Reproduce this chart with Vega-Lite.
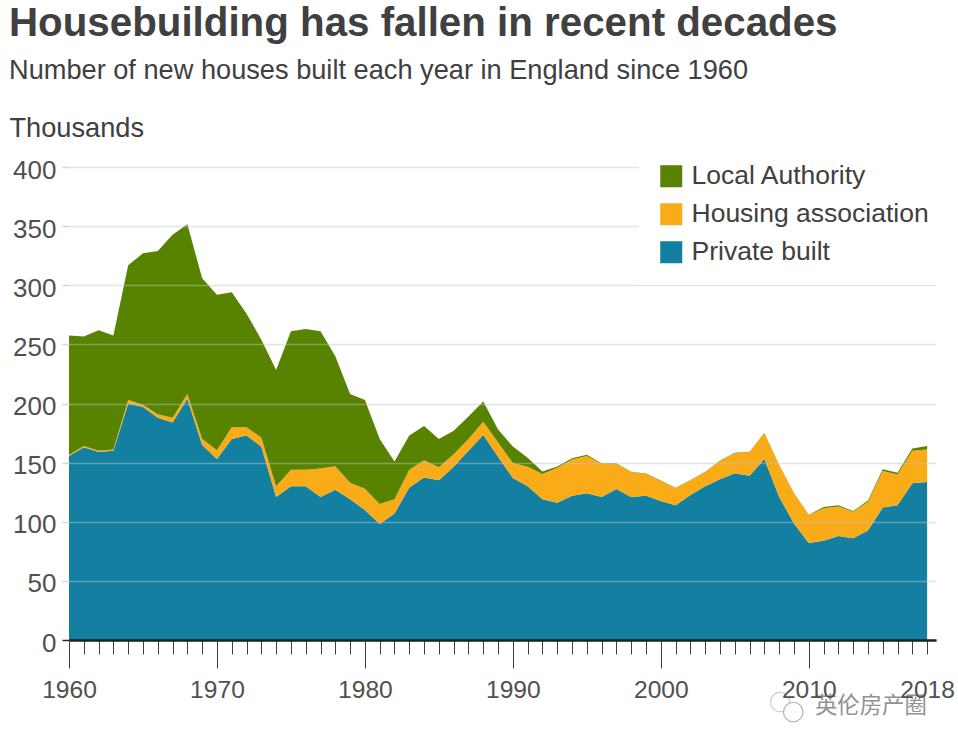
{"$schema":"https://vega.github.io/schema/vega-lite/v6.json","width":867,"height":473,"autosize":{"type":"none"},"padding":{"left":69,"top":167,"right":22,"bottom":108},"background":"white","title":{"text":"Housebuilding has fallen in recent decades","subtitle":"Number of new houses built each year in England since 1960","anchor":"start","frame":"group","dx":-60,"offset":30,"font":"Liberation Sans","fontSize":40.3,"fontWeight":"bold","color":"#404040","subtitleFont":"Liberation Sans","subtitleFontSize":27.2,"subtitleColor":"#404040","subtitlePadding":14},"config":{"view":{"stroke":null},"font":"Liberation Sans"},"layer":[{"data":{"name":"houses"},"mark":{"type":"area","interpolate":"linear","clip":true},"encoding":{"x":{"field":"year","type":"quantitative","scale":{"domain":[1960,2018.6],"nice":false,"zero":false},"axis":{"orient":"bottom","values":[1960,1961,1962,1963,1964,1965,1966,1967,1968,1969,1970,1971,1972,1973,1974,1975,1976,1977,1978,1979,1980,1981,1982,1983,1984,1985,1986,1987,1988,1989,1990,1991,1992,1993,1994,1995,1996,1997,1998,1999,2000,2001,2002,2003,2004,2005,2006,2007,2008,2009,2010,2011,2012,2013,2014,2015,2016,2017,2018],"labels":false,"title":null,"grid":false,"tickSize":14,"tickColor":"#404040","tickWidth":1,"domainColor":"#222222","domainWidth":2.5,"zindex":2}},"y":{"field":"thousands","type":"quantitative","stack":"zero","scale":{"domain":[0,400],"nice":false},"axis":{"values":[0,50,100,150,200,250,300,350,400],"title":"Thousands","titleAngle":0,"titleAlign":"left","titleBaseline":"alphabetic","titleX":-60,"titleY":-31,"titleFont":"Liberation Sans","titleFontSize":27.2,"titleFontWeight":"normal","titleColor":"#404040","labelFont":"Liberation Sans","labelFontSize":26,"labelColor":"#505050","labelPadding":6,"labelOffset":3,"tickSize":7,"tickColor":{"condition":{"test":"datum.value===0","value":"#222222"},"value":"#d6d6d6"},"tickWidth":1.5,"domain":false,"grid":true,"gridColor":{"condition":{"test":"datum.value===0","value":"#222222"},"value":"#bcc4cc"},"gridOpacity":0.45,"gridWidth":1.5,"zindex":1}},"color":{"field":"type","type":"nominal","scale":{"domain":["Local Authority","Housing association","Private built"],"range":["#588300","#FAAB18","#1380A1"]},"legend":{"orient":"none","legendX":570,"legendY":-23,"title":null,"symbolType":"square","symbolSize":484,"symbolStrokeWidth":0,"symbolOpacity":1,"labelFont":"Liberation Sans","labelFontSize":26.5,"labelColor":"#404040","labelOffset":7,"labelLimit":400,"rowPadding":11,"fillColor":"white","padding":19,"zindex":1}},"order":{"field":"rank","type":"ordinal"}}},{"data":{"values":[{"year":2014.2,"thousands":-56,"label":"英伦房产圈"}]},"mark":{"type":"text","font":"Noto Sans CJK SC","fontSize":22.4,"color":"#808080","opacity":0.85,"clip":false,"align":"center","baseline":"middle"},"encoding":{"x":{"field":"year","type":"quantitative","axis":{"orient":"bottom","values":[1960,1970,1980,1990,2000,2010,2018],"title":null,"grid":false,"domain":false,"tickSize":28,"tickWidth":1,"tickColor":"#404040","tickOpacity":{"condition":{"test":"datum.value===2018","value":0},"value":1},"labelFont":"Liberation Sans","labelFontSize":24.6,"labelColor":"#505050","labelPadding":10,"labelOverlap":false,"labelFlush":false,"labelBound":false,"format":"d","zindex":2}},"y":{"field":"thousands","type":"quantitative"},"text":{"field":"label","type":"nominal"}}},{"data":{"values":[{"year":2008.07,"thousands":-52.4}]},"mark":{"type":"point","shape":"circle","filled":false,"size":380,"stroke":"#b8b8b8","strokeWidth":1.2,"clip":false},"encoding":{"x":{"field":"year","type":"quantitative","axis":null},"y":{"field":"thousands","type":"quantitative"}}},{"data":{"values":[{"year":2008.95,"thousands":-60.9}]},"mark":{"type":"point","shape":"circle","filled":true,"size":380,"fill":"white","fillOpacity":0.8,"stroke":"#b0b0b0","strokeWidth":1.2,"clip":false},"encoding":{"x":{"field":"year","type":"quantitative","axis":null},"y":{"field":"thousands","type":"quantitative"}}}],"resolve":{"axis":{"x":"independent"}},"datasets":{"houses":[
{"year":1960,"type":"Private built","rank":1,"thousands":155.5},{"year":1960,"type":"Housing association","rank":2,"thousands":1},{"year":1960,"type":"Local Authority","rank":3,"thousands":101},
{"year":1961,"type":"Private built","rank":1,"thousands":163},{"year":1961,"type":"Housing association","rank":2,"thousands":1},{"year":1961,"type":"Local Authority","rank":3,"thousands":92.7},
{"year":1962,"type":"Private built","rank":1,"thousands":159},{"year":1962,"type":"Housing association","rank":2,"thousands":1},{"year":1962,"type":"Local Authority","rank":3,"thousands":102},
{"year":1963,"type":"Private built","rank":1,"thousands":160},{"year":1963,"type":"Housing association","rank":2,"thousands":1},{"year":1963,"type":"Local Authority","rank":3,"thousands":96.5},
{"year":1964,"type":"Private built","rank":1,"thousands":200},{"year":1964,"type":"Housing association","rank":2,"thousands":3},{"year":1964,"type":"Local Authority","rank":3,"thousands":114},
{"year":1965,"type":"Private built","rank":1,"thousands":197},{"year":1965,"type":"Housing association","rank":2,"thousands":2},{"year":1965,"type":"Local Authority","rank":3,"thousands":128},
{"year":1966,"type":"Private built","rank":1,"thousands":188},{"year":1966,"type":"Housing association","rank":2,"thousands":3},{"year":1966,"type":"Local Authority","rank":3,"thousands":138},
{"year":1967,"type":"Private built","rank":1,"thousands":184},{"year":1967,"type":"Housing association","rank":2,"thousands":4},{"year":1967,"type":"Local Authority","rank":3,"thousands":154.7},
{"year":1968,"type":"Private built","rank":1,"thousands":204},{"year":1968,"type":"Housing association","rank":2,"thousands":4},{"year":1968,"type":"Local Authority","rank":3,"thousands":143.5},
{"year":1969,"type":"Private built","rank":1,"thousands":165},{"year":1969,"type":"Housing association","rank":2,"thousands":5},{"year":1969,"type":"Local Authority","rank":3,"thousands":136},
{"year":1970,"type":"Private built","rank":1,"thousands":153},{"year":1970,"type":"Housing association","rank":2,"thousands":7.5},{"year":1970,"type":"Local Authority","rank":3,"thousands":131.5},
{"year":1971,"type":"Private built","rank":1,"thousands":170},{"year":1971,"type":"Housing association","rank":2,"thousands":10},{"year":1971,"type":"Local Authority","rank":3,"thousands":114},
{"year":1972,"type":"Private built","rank":1,"thousands":173},{"year":1972,"type":"Housing association","rank":2,"thousands":7},{"year":1972,"type":"Local Authority","rank":3,"thousands":96},
{"year":1973,"type":"Private built","rank":1,"thousands":163.5},{"year":1973,"type":"Housing association","rank":2,"thousands":7.5},{"year":1973,"type":"Local Authority","rank":3,"thousands":83},
{"year":1974,"type":"Private built","rank":1,"thousands":121},{"year":1974,"type":"Housing association","rank":2,"thousands":9},{"year":1974,"type":"Local Authority","rank":3,"thousands":98.4},
{"year":1975,"type":"Private built","rank":1,"thousands":130},{"year":1975,"type":"Housing association","rank":2,"thousands":14},{"year":1975,"type":"Local Authority","rank":3,"thousands":117},
{"year":1976,"type":"Private built","rank":1,"thousands":130},{"year":1976,"type":"Housing association","rank":2,"thousands":14},{"year":1976,"type":"Local Authority","rank":3,"thousands":119},
{"year":1977,"type":"Private built","rank":1,"thousands":121},{"year":1977,"type":"Housing association","rank":2,"thousands":24},{"year":1977,"type":"Local Authority","rank":3,"thousands":116},
{"year":1978,"type":"Private built","rank":1,"thousands":127},{"year":1978,"type":"Housing association","rank":2,"thousands":20},{"year":1978,"type":"Local Authority","rank":3,"thousands":93},
{"year":1979,"type":"Private built","rank":1,"thousands":119},{"year":1979,"type":"Housing association","rank":2,"thousands":14},{"year":1979,"type":"Local Authority","rank":3,"thousands":75},
{"year":1980,"type":"Private built","rank":1,"thousands":110},{"year":1980,"type":"Housing association","rank":2,"thousands":18},{"year":1980,"type":"Local Authority","rank":3,"thousands":75},
{"year":1981,"type":"Private built","rank":1,"thousands":98},{"year":1981,"type":"Housing association","rank":2,"thousands":17},{"year":1981,"type":"Local Authority","rank":3,"thousands":55},
{"year":1982,"type":"Private built","rank":1,"thousands":107},{"year":1982,"type":"Housing association","rank":2,"thousands":12},{"year":1982,"type":"Local Authority","rank":3,"thousands":32},
{"year":1983,"type":"Private built","rank":1,"thousands":129},{"year":1983,"type":"Housing association","rank":2,"thousands":15},{"year":1983,"type":"Local Authority","rank":3,"thousands":29},
{"year":1984,"type":"Private built","rank":1,"thousands":137.5},{"year":1984,"type":"Housing association","rank":2,"thousands":14.5},{"year":1984,"type":"Local Authority","rank":3,"thousands":29},
{"year":1985,"type":"Private built","rank":1,"thousands":135},{"year":1985,"type":"Housing association","rank":2,"thousands":11},{"year":1985,"type":"Local Authority","rank":3,"thousands":24},
{"year":1986,"type":"Private built","rank":1,"thousands":146.6},{"year":1986,"type":"Housing association","rank":2,"thousands":10.4},{"year":1986,"type":"Local Authority","rank":3,"thousands":20},
{"year":1987,"type":"Private built","rank":1,"thousands":160},{"year":1987,"type":"Housing association","rank":2,"thousands":10},{"year":1987,"type":"Local Authority","rank":3,"thousands":19},
{"year":1988,"type":"Private built","rank":1,"thousands":173.4},{"year":1988,"type":"Housing association","rank":2,"thousands":11.2},{"year":1988,"type":"Local Authority","rank":3,"thousands":17},
{"year":1989,"type":"Private built","rank":1,"thousands":155},{"year":1989,"type":"Housing association","rank":2,"thousands":12},{"year":1989,"type":"Local Authority","rank":3,"thousands":11},
{"year":1990,"type":"Private built","rank":1,"thousands":137},{"year":1990,"type":"Housing association","rank":2,"thousands":12.6},{"year":1990,"type":"Local Authority","rank":3,"thousands":14},
{"year":1991,"type":"Private built","rank":1,"thousands":130},{"year":1991,"type":"Housing association","rank":2,"thousands":16.6},{"year":1991,"type":"Local Authority","rank":3,"thousands":7.5},
{"year":1992,"type":"Private built","rank":1,"thousands":119},{"year":1992,"type":"Housing association","rank":2,"thousands":21.4},{"year":1992,"type":"Local Authority","rank":3,"thousands":2},
{"year":1993,"type":"Private built","rank":1,"thousands":116},{"year":1993,"type":"Housing association","rank":2,"thousands":29.7},{"year":1993,"type":"Local Authority","rank":3,"thousands":1},
{"year":1994,"type":"Private built","rank":1,"thousands":122},{"year":1994,"type":"Housing association","rank":2,"thousands":30.7},{"year":1994,"type":"Local Authority","rank":3,"thousands":1},
{"year":1995,"type":"Private built","rank":1,"thousands":124},{"year":1995,"type":"Housing association","rank":2,"thousands":31.6},{"year":1995,"type":"Local Authority","rank":3,"thousands":1},
{"year":1996,"type":"Private built","rank":1,"thousands":121},{"year":1996,"type":"Housing association","rank":2,"thousands":28},{"year":1996,"type":"Local Authority","rank":3,"thousands":0.5},
{"year":1997,"type":"Private built","rank":1,"thousands":127.6},{"year":1997,"type":"Housing association","rank":2,"thousands":21.4},{"year":1997,"type":"Local Authority","rank":3,"thousands":0.5},
{"year":1998,"type":"Private built","rank":1,"thousands":121},{"year":1998,"type":"Housing association","rank":2,"thousands":21},{"year":1998,"type":"Local Authority","rank":3,"thousands":0.3},
{"year":1999,"type":"Private built","rank":1,"thousands":122},{"year":1999,"type":"Housing association","rank":2,"thousands":18.4},{"year":1999,"type":"Local Authority","rank":3,"thousands":0.3},
{"year":2000,"type":"Private built","rank":1,"thousands":117.5},{"year":2000,"type":"Housing association","rank":2,"thousands":17},{"year":2000,"type":"Local Authority","rank":3,"thousands":0.3},
{"year":2001,"type":"Private built","rank":1,"thousands":114},{"year":2001,"type":"Housing association","rank":2,"thousands":14.5},{"year":2001,"type":"Local Authority","rank":3,"thousands":0.3},
{"year":2002,"type":"Private built","rank":1,"thousands":122.6},{"year":2002,"type":"Housing association","rank":2,"thousands":12.4},{"year":2002,"type":"Local Authority","rank":3,"thousands":0.3},
{"year":2003,"type":"Private built","rank":1,"thousands":130},{"year":2003,"type":"Housing association","rank":2,"thousands":12},{"year":2003,"type":"Local Authority","rank":3,"thousands":0.3},
{"year":2004,"type":"Private built","rank":1,"thousands":136},{"year":2004,"type":"Housing association","rank":2,"thousands":15.6},{"year":2004,"type":"Local Authority","rank":3,"thousands":0.3},
{"year":2005,"type":"Private built","rank":1,"thousands":141},{"year":2005,"type":"Housing association","rank":2,"thousands":17},{"year":2005,"type":"Local Authority","rank":3,"thousands":0.3},
{"year":2006,"type":"Private built","rank":1,"thousands":139},{"year":2006,"type":"Housing association","rank":2,"thousands":20},{"year":2006,"type":"Local Authority","rank":3,"thousands":0.3},
{"year":2007,"type":"Private built","rank":1,"thousands":153},{"year":2007,"type":"Housing association","rank":2,"thousands":22},{"year":2007,"type":"Local Authority","rank":3,"thousands":0.3},
{"year":2008,"type":"Private built","rank":1,"thousands":121},{"year":2008,"type":"Housing association","rank":2,"thousands":27},{"year":2008,"type":"Local Authority","rank":3,"thousands":0.3},
{"year":2009,"type":"Private built","rank":1,"thousands":98.6},{"year":2009,"type":"Housing association","rank":2,"thousands":25.4},{"year":2009,"type":"Local Authority","rank":3,"thousands":0.3},
{"year":2010,"type":"Private built","rank":1,"thousands":82},{"year":2010,"type":"Housing association","rank":2,"thousands":23.7},{"year":2010,"type":"Local Authority","rank":3,"thousands":0.3},
{"year":2011,"type":"Private built","rank":1,"thousands":84},{"year":2011,"type":"Housing association","rank":2,"thousands":27.5},{"year":2011,"type":"Local Authority","rank":3,"thousands":1},
{"year":2012,"type":"Private built","rank":1,"thousands":88},{"year":2012,"type":"Housing association","rank":2,"thousands":25},{"year":2012,"type":"Local Authority","rank":3,"thousands":1},
{"year":2013,"type":"Private built","rank":1,"thousands":86},{"year":2013,"type":"Housing association","rank":2,"thousands":22.5},{"year":2013,"type":"Local Authority","rank":3,"thousands":0.5},
{"year":2014,"type":"Private built","rank":1,"thousands":92.5},{"year":2014,"type":"Housing association","rank":2,"thousands":24.5},{"year":2014,"type":"Local Authority","rank":3,"thousands":1},
{"year":2015,"type":"Private built","rank":1,"thousands":112},{"year":2015,"type":"Housing association","rank":2,"thousands":30.9},{"year":2015,"type":"Local Authority","rank":3,"thousands":1.5},
{"year":2016,"type":"Private built","rank":1,"thousands":114},{"year":2016,"type":"Housing association","rank":2,"thousands":26},{"year":2016,"type":"Local Authority","rank":3,"thousands":1.5},
{"year":2017,"type":"Private built","rank":1,"thousands":132.6},{"year":2017,"type":"Housing association","rank":2,"thousands":27.4},{"year":2017,"type":"Local Authority","rank":3,"thousands":2},
{"year":2018,"type":"Private built","rank":1,"thousands":133.6},{"year":2018,"type":"Housing association","rank":2,"thousands":27.4},{"year":2018,"type":"Local Authority","rank":3,"thousands":3}
]}}
